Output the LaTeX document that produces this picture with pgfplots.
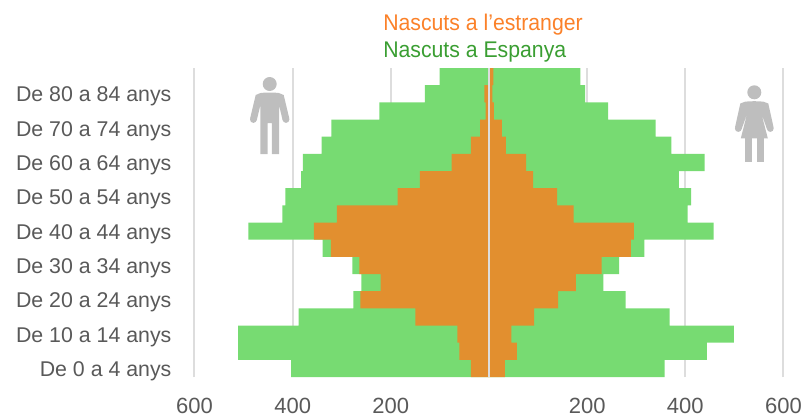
\documentclass[border=0pt]{standalone}
\usepackage{pgfplots}
\usepackage{pgfplotstable}
\usepackage{fontspec}
\pgfplotsset{compat=1.18}
\setmainfont{Liberation Sans}
\newfontfamily\legfont{Liberation Sans}[FakeStretch=0.937]
\definecolor{gr}{HTML}{77DB72}
\definecolor{og}{HTML}{E28F2F}
\definecolor{gridc}{HTML}{DDDDDD}
\definecolor{txt}{HTML}{595959}
\definecolor{leg1}{HTML}{FB8129}
\definecolor{leg2}{HTML}{3A9E32}
\definecolor{icon}{HTML}{BEBEBE}
\pgfplotstableread{
y gl ol gr or
0 -403 -36.7 358 32.6
1 -511 -60.5 444 57
2 -511 -64.5 499 45.5
3 -388 -150 368 91.7
4 -276.4 -262 278.5 140.6
5 -260 -220.7 233 177
6 -278.4 -264 264.9 229.6
7 -339 -322 316.5 289
8 -490 -357 457.8 295.4
9 -421 -309.7 404.8 172.5
10 -415 -186 411.6 139
11 -383 -140.6 387 90
12 -379 -76 439.5 75.4
13 -341 -36.7 371.5 34.6
14 -321 -18.3 339.6 26
15 -223.4 -6.7 242.5 10
16 -130.4 -9.5 195.6 6.7
17 -100.5 -2 186 9
}\pop
\begin{document}
\begin{tikzpicture}[x=0.75pt,y=0.75pt]
\path[use as bounding box] (0,0) rectangle (804,419);
\begin{axis}[
  at={(194.5*0.75pt,42*0.75pt)}, anchor=south west,
  scale only axis, width=441.75pt, height=231.75pt,
  xmin=-600, xmax=600, ymin=-0.5, ymax=17.5,
  axis line style={draw=none},
  tick style={draw=none},
  xtick={-600,-400,-200,0,200,400,600},
  xticklabels={600,400,200,,200,400,600},
  ytick={0,2,...,16},
  yticklabels={De 0 a 4 anys,De 10 a 14 anys,De 20 a 24 anys,De 30 a 34 anys,De 40 a 44 anys,De 50 a 54 anys,De 60 a 64 anys,De 70 a 74 anys,De 80 a 84 anys},
  xmajorgrids,
  major grid style={draw=gridc,line width=1.5pt},
  xticklabel style={font=\fontsize{16.5}{19}\selectfont,text=txt,inner ysep=1pt},
  yticklabel style={font=\fontsize{16}{19}\selectfont,text=txt},
  x tick label style={yshift=-15pt},
  y tick label style={xshift=-9.5pt,yshift=-2.2pt},
  xbar, bar shift=0pt, bar width=1,
]
\addplot[fill=gr,draw=none] table[x=gl,y=y]{\pop};
\addplot[fill=gr,draw=none] table[x=gr,y=y]{\pop};
\addplot[fill=og,draw=none] table[x=ol,y=y]{\pop};
\addplot[fill=og,draw=none] table[x=or,y=y]{\pop};
\end{axis}
\draw[gridc,line width=1.5pt] (489,351) -- (489,42);
\node[anchor=west,inner sep=0pt,text=leg1,font=\legfont\fontsize{17}{20}\selectfont] at (383,394) {Nascuts a l’estranger};
\node[anchor=west,inner sep=0pt,text=leg2,font=\legfont\fontsize{17}{20}\selectfont] at (383,367) {Nascuts a Espanya};
% man icon
\begin{scope}[shift={(269.7,419)},yscale=-1]
\fill[icon] (0,84) circle (7);
\fill[icon] (-14,95) .. controls (-10,92.8) .. (0,92.5) .. controls (10,92.8) .. (14,95) -- (19.6,118.5) -- (13,120.5) -- (9.3,105) -- (9.3,154) -- (2.2,154) -- (2.2,123) -- (-2.2,123) -- (-2.2,154) -- (-9.3,154) -- (-9.3,105) -- (-13,120.5) -- (-19.6,118.5) -- cycle;
\fill[icon] (-16.3,119.5) circle (3.4);
\fill[icon] (16.3,119.5) circle (3.4);
\end{scope}
% woman icon
\begin{scope}[shift={(754.3,419)},yscale=-1]
\fill[icon] (0,92.3) circle (7);
\fill[icon] (-14,103.5) .. controls (-10,101.5) .. (0,101.2) .. controls (10,101.5) .. (14,103.5) -- (19.3,127.5) -- (12.8,129.5) -- (7,113) -- (13.5,138.3) -- (-13.5,138.3) -- (-7,113) -- (-12.8,129.5) -- (-19.3,127.5) -- cycle;
\fill[icon] (-16,128.5) circle (3.4);
\fill[icon] (16,128.5) circle (3.4);
\fill[icon] (-9.2,138) rectangle (-2.2,162.3);
\fill[icon] (2.4,138) rectangle (9.4,162.3);
\end{scope}
\end{tikzpicture}
\end{document}
